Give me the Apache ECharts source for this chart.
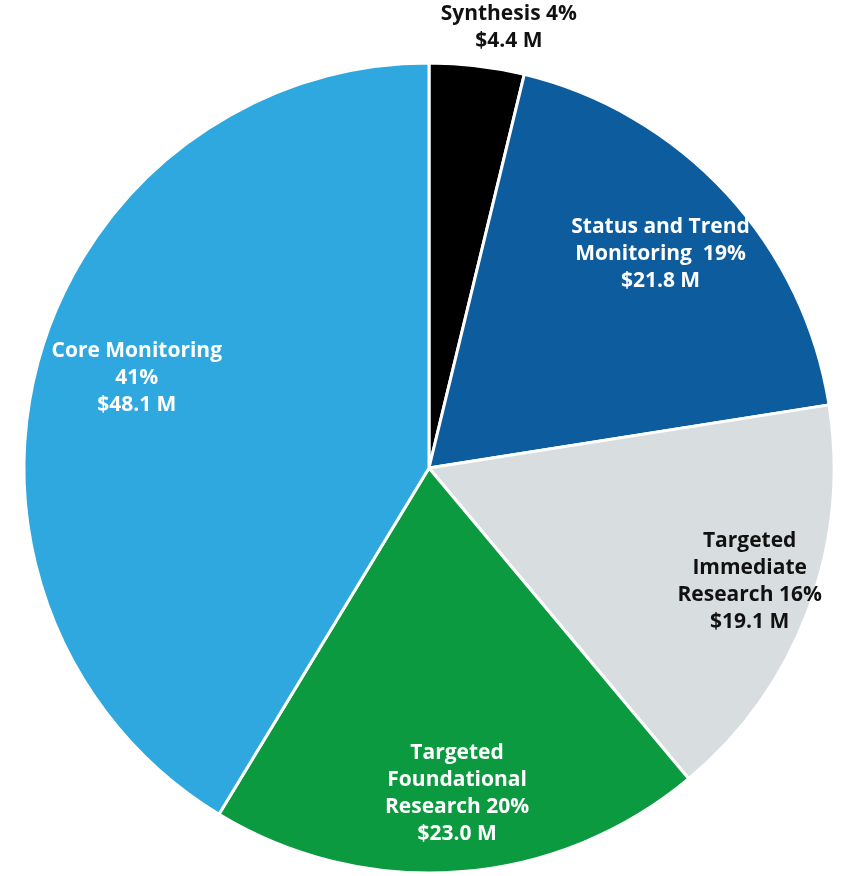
<!DOCTYPE html>
<html>
<head>
<meta charset="utf-8">
<script src="https://cdn.jsdelivr.net/npm/echarts@6/dist/echarts.min.js"></script>
<style>
html,body{margin:0;padding:0;background:#fff;}
#chart{width:841px;height:876px;}
</style>
</head>
<body>
<div id="chart"></div>
<script>
// Data
var categories = ["Synthesis", "Status and Trend Monitoring", "Targeted Immediate Research", "Targeted Foundational Research", "Core Monitoring"];
var values = [4.4, 21.8, 19.1, 23.0, 48.1];
var labelNameParts = ["Synthesis", "Status and Trend\nMonitoring ", "Targeted\nImmediate\nResearch", "Targeted\nFoundational\nResearch", "Core Monitoring\n"];

// Styles
var colors = ["#000000", "#0d5c9e", "#d8dedf", "#0c9a40", "#2fa8e0"];
var labelColors = ["#111111", "#ffffff", "#111111", "#ffffff", "#ffffff"];
var labelOffsets = [[42, -124], [-3, 2], [22, 1], [4, 7], [15, -4]];

var chart = echarts.init(document.getElementById('chart'));

function fmt(p) {
  var i = p.dataIndex;
  var part = labelNameParts[i];
  var sep = part.charAt(part.length - 1) === '\n' ? '' : ' ';
  return part + sep + Math.round(p.percent) + '%\n$' + values[i].toFixed(1) + ' M';
}

var baseData = categories.map(function (c, i) {
  return { name: c, value: values[i], itemStyle: { color: colors[i] } };
});

var labelData = categories.map(function (c, i) {
  return {
    name: c, value: values[i],
    label: { color: labelColors[i], offset: labelOffsets[i] }
  };
});

var FONT = '"Open Sans", "Noto Sans", sans-serif';

chart.setOption({
  animation: false,
  backgroundColor: '#ffffff',
  series: [
    {
      type: 'pie',
      center: [429, 468],
      radius: [0, 405],
      startAngle: 90,
      clockwise: true,
      silent: true,
      label: { show: false },
      labelLine: { show: false },
      itemStyle: { borderColor: '#ffffff', borderWidth: 3 },
      data: baseData
    },
    {
      type: 'pie',
      center: [429, 468],
      radius: [227, 405],
      startAngle: 90,
      clockwise: true,
      silent: true,
      itemStyle: { color: 'rgba(0,0,0,0)', borderWidth: 0 },
      labelLine: { show: false },
      label: {
        show: true,
        position: 'inside',
        formatter: fmt,
        fontFamily: FONT,
        fontWeight: 'bold',
        fontSize: 21,
        lineHeight: 27,
        align: 'center'
      },
      data: labelData
    }
  ]
});
</script>
</body>
</html>
